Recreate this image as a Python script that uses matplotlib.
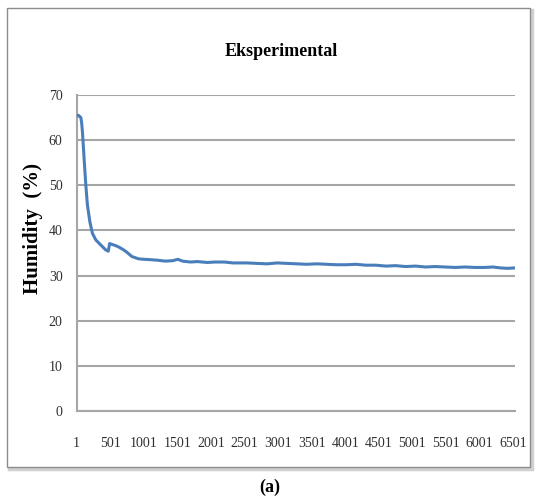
"""
Humidity over time, experimental run (panel a).
"""

import matplotlib.pyplot as plt
from matplotlib.patches import Rectangle

# sample index and humidity (%)
sample_idx = [1, 30, 66, 78, 90, 115, 140, 163, 199, 237, 288, 361, 435, 474,
              494, 530, 590, 632, 680, 731, 780, 828, 927, 1010, 1124, 1210,
              1322, 1435, 1510, 1580, 1700, 1800, 1950, 2060, 2200, 2330,
              2540, 2680, 2840, 2990, 3130, 3280, 3430, 3580, 3720, 3870,
              4020, 4160, 4310, 4460, 4610, 4750, 4900, 5050, 5200, 5340,
              5490, 5640, 5790, 5930, 6080, 6200, 6310, 6420, 6530]
humidity = [65.3, 65.5, 65.0, 63.8, 61.7, 55.7, 50.0, 45.7, 42.0, 39.4, 37.9,
            36.8, 35.7, 35.4, 37.1, 36.9, 36.6, 36.3, 35.9, 35.4, 34.8, 34.2,
            33.7, 33.6, 33.5, 33.4, 33.2, 33.3, 33.6, 33.2, 33.0, 33.1, 32.9,
            33.0, 33.0, 32.8, 32.8, 32.7, 32.6, 32.8, 32.7, 32.6, 32.5, 32.6,
            32.5, 32.4, 32.4, 32.5, 32.3, 32.3, 32.1, 32.2, 32.0, 32.1, 31.9,
            32.0, 31.9, 31.8, 31.9, 31.8, 31.8, 31.9, 31.7, 31.6, 31.7]

x_ticks = list(range(1, 6502, 500))
y_ticks = list(range(0, 71, 10))

title = "Eksperimental"
y_label = "Humidity  (%)"
caption = "(a)"

SERIF = ["Liberation Serif", "DejaVu Serif"]
GRID = "#a6a6a6"

fig = plt.figure(figsize=(5.4, 5.0), dpi=100)
fig.patch.set_facecolor("white")

# outer chart frame with a light shadow
fig.patches.append(Rectangle((9 / 540, 1 - 469 / 500), 523 / 540, 459 / 500,
                             transform=fig.transFigure, facecolor="none",
                             edgecolor="#d0d0d0", linewidth=2.5, zorder=-2))
fig.patches.append(Rectangle((7 / 540, 1 - 467 / 500), 523 / 540, 459 / 500,
                             transform=fig.transFigure, facecolor="white",
                             edgecolor="#8c8c8c", linewidth=1.0, zorder=-1))

ax = fig.add_axes([76.5 / 540, 1 - 411 / 500, (515 - 76.5) / 540, (411 - 95) / 500])
ax.set_zorder(1)
ax.set_facecolor("none")
ax.plot(sample_idx, humidity, color="#4a7ebb", linewidth=2.2, zorder=3)

ax.set_xlim(1, 6530)
ax.set_ylim(0, 70)
ax.set_xticks(x_ticks)
ax.set_xticklabels([str(t) for t in x_ticks], fontfamily=SERIF, fontsize=10,
                   color="#303030")
ax.set_yticks(y_ticks)
ax.set_yticklabels([str(t) for t in y_ticks], fontfamily=SERIF, fontsize=10,
                   color="#303030")
ax.tick_params(axis="x", length=0, pad=18.5)
ax.tick_params(axis="y", length=0, pad=10)

ax.yaxis.grid(True, color=GRID, linewidth=1.5)
ax.set_axisbelow(True)
for side in ["top", "right"]:
    ax.spines[side].set_visible(False)
for side in ["left", "bottom"]:
    ax.spines[side].set_color(GRID)
    ax.spines[side].set_linewidth(1.5)

fig.text(281 / 540, 1 - 52 / 500, title, ha="center", va="center",
         fontfamily=SERIF, fontweight="bold", fontsize=13)
fig.text(33 / 540, 1 - 229 / 500, y_label, ha="center", va="center",
         rotation=90, fontfamily=SERIF, fontweight="bold", fontsize=15)
fig.text(270 / 540, 1 - 487 / 500, caption, ha="center", va="center",
         fontfamily=SERIF, fontweight="bold", fontsize=13)

fig.savefig("out.png", dpi=100)
